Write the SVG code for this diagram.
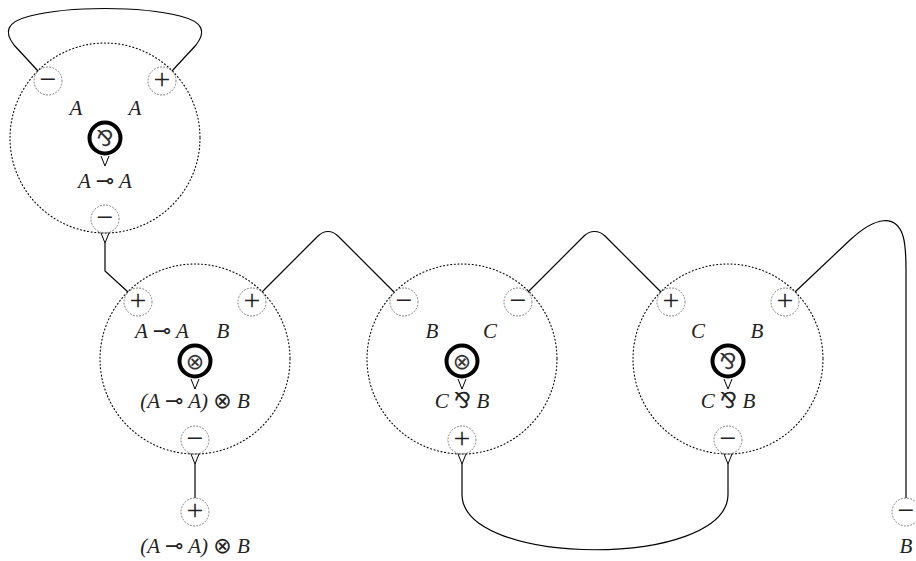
<svg xmlns="http://www.w3.org/2000/svg" width="916" height="561" viewBox="0 0 916 561">
<style>
.big{fill:none;stroke:#000;stroke-width:1.1;stroke-dasharray:1 2.6;stroke-linecap:round}
.port{fill:none;stroke:#777;stroke-width:1;stroke-dasharray:1 2.2;stroke-linecap:round}
.op{fill:#fff;stroke:#000;stroke-width:4}
.tail{fill:none;stroke:#000;stroke-width:1}
.wire{fill:none;stroke:#000;stroke-width:1.2}
.sgn{font-family:"Liberation Serif",serif;font-size:30px;fill:#222;text-anchor:middle}
.lbl{font-family:"Liberation Serif",serif;font-style:italic;font-size:21px;fill:#222;text-anchor:middle}
.sym{font-family:"DejaVu Sans",sans-serif;font-style:normal;font-size:22px}
.opsym{font-family:"DejaVu Sans",sans-serif;font-size:22px;fill:#333;text-anchor:middle}
</style>
<g id="connectors">
<path class="wire" d="M38 71 L14 45 C4 32 6 22 30 16 C70 6 140 6 180 16 C204 22 206 32 196 45 L172 71"/>
<path class="wire" d="M105 243 L105 271 L128 292"/>
<path class="wire" d="M262 292 L318 236 C324 230 332 230 338 236 L394 292"/>
<path class="wire" d="M528 292 L584 236 C590 230 599 230 605 236 L661 292"/>
<path class="wire" d="M795 292 L850 240 C876 216 896 214 903 236 C906 246 906 256 906 270 L906 498"/>
<path class="wire" d="M195 464 L195 498"/>
<path class="wire" d="M462 464 L462 495 C464 568 726 568 728 495 L728 464"/>
</g>
<g id="n1">
<circle class="big" cx="105" cy="138" r="95"/>
<circle class="port" cx="48" cy="81" r="14"/><text class="sgn" x="48" y="89">−</text>
<circle class="port" cx="162" cy="81" r="14"/><text class="sgn" x="162" y="89">+</text>
<circle class="port" cx="105" cy="219" r="14"/><text class="sgn" x="105" y="227">−</text>
<path class="tail" d="M101 233 L105 243 L109 233"/>
<circle class="op" cx="105" cy="138" r="15.5"/><text class="opsym" x="105" y="146">⅋</text>
<path class="tail" d="M101 156 L105 166 L109 156"/>
<text class="lbl" x="76" y="115">A</text><text class="lbl" x="135" y="115">A</text>
<text class="lbl" x="105" y="188">A <tspan class="sym">⊸</tspan> A</text>
</g>
<g id="n2">
<circle class="big" cx="195" cy="359" r="95"/>
<circle class="port" cx="138" cy="302" r="14"/><text class="sgn" x="138" y="310">+</text>
<circle class="port" cx="252" cy="302" r="14"/><text class="sgn" x="252" y="310">+</text>
<circle class="port" cx="195" cy="440" r="14"/><text class="sgn" x="195" y="448">−</text>
<path class="tail" d="M191 454 L195 464 L199 454"/>
<circle class="op" cx="195" cy="361" r="15.5"/><text class="opsym" x="195" y="369">⊗</text>
<path class="tail" d="M191 379 L195 389 L199 379"/>
<text class="lbl" x="162" y="338">A <tspan class="sym">⊸</tspan> A</text><text class="lbl" x="223" y="338">B</text>
<text class="lbl" x="195" y="408">(A <tspan class="sym">⊸</tspan> A) <tspan class="sym">⊗</tspan> B</text>
</g>
<g id="n3">
<circle class="big" cx="462" cy="359" r="95"/>
<circle class="port" cx="404" cy="302" r="14"/><text class="sgn" x="404" y="310">−</text>
<circle class="port" cx="518" cy="302" r="14"/><text class="sgn" x="518" y="310">−</text>
<circle class="port" cx="462" cy="440" r="14"/><text class="sgn" x="462" y="448">+</text>
<path class="tail" d="M458 454 L462 464 L466 454"/>
<circle class="op" cx="462" cy="361" r="15.5"/><text class="opsym" x="462" y="369">⊗</text>
<path class="tail" d="M458 379 L462 389 L466 379"/>
<text class="lbl" x="432" y="338">B</text><text class="lbl" x="490" y="338">C</text>
<text class="lbl" x="462" y="408">C <tspan class="sym">⅋</tspan> B</text>
</g>
<g id="n4">
<circle class="big" cx="728" cy="359" r="95"/>
<circle class="port" cx="671" cy="302" r="14"/><text class="sgn" x="671" y="310">+</text>
<circle class="port" cx="785" cy="302" r="14"/><text class="sgn" x="785" y="310">+</text>
<circle class="port" cx="728" cy="440" r="14"/><text class="sgn" x="728" y="448">−</text>
<path class="tail" d="M724 454 L728 464 L732 454"/>
<circle class="op" cx="728" cy="361" r="15.5"/><text class="opsym" x="728" y="369">⅋</text>
<path class="tail" d="M724 379 L728 389 L732 379"/>
<text class="lbl" x="698" y="338">C</text><text class="lbl" x="757" y="338">B</text>
<text class="lbl" x="728" y="408">C <tspan class="sym">⅋</tspan> B</text>
</g>
<g id="out1">
<circle class="port" cx="195" cy="512" r="14"/><text class="sgn" x="195" y="520">+</text>
<text class="lbl" x="195" y="553">(A <tspan class="sym">⊸</tspan> A) <tspan class="sym">⊗</tspan> B</text>
</g>
<g id="out2">
<circle class="port" cx="906" cy="512" r="14"/><text class="sgn" x="906" y="520">−</text>
<text class="lbl" x="906" y="553">B</text>
</g>
</svg>
